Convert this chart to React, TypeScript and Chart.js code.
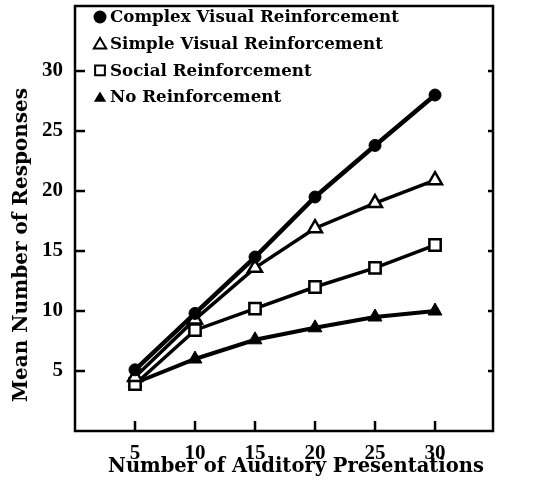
import React, { useEffect, useRef } from 'react';
import { Chart, registerables } from 'chart.js';
Chart.register(...registerables);

const presentations = [5, 10, 15, 20, 25, 30];
const complexVisual = [5.1, 9.8, 14.5, 19.5, 23.8, 28.0];
const simpleVisual = [4.5, 9.3, 13.6, 16.9, 19.0, 20.9];
const socialReinf = [3.9, 8.4, 10.2, 12.0, 13.6, 15.5];
const noReinf = [4.0, 6.0, 7.6, 8.6, 9.5, 10.0];
const seriesNames = [
  'Complex Visual Reinforcement',
  'Simple Visual Reinforcement',
  'Social Reinforcement',
  'No Reinforcement',
];
const xTickValues = [5, 10, 15, 20, 25, 30];
const yTickValues = [5, 10, 15, 20, 25, 30];
const xTitle = 'Number of Auditory Presentations';
const yTitle = 'Mean Number of Responses';

const X_TITLE_FONT = "bold 19.5px 'DejaVu Serif'";
const Y_TITLE_FONT = "bold 20px 'DejaVu Serif'";
const LEGEND_FONT = "bold 16.7px 'DejaVu Serif'";

type Marker = 'circle' | 'triangleOpen' | 'rectOpen' | 'triangleFilled';
const markers: Marker[] = ['circle', 'triangleOpen', 'rectOpen', 'triangleFilled'];

function drawMarker(ctx: CanvasRenderingContext2D, m: Marker, x: number, y: number, r: number) {
  ctx.save();
  ctx.strokeStyle = '#000';
  ctx.fillStyle = '#000';
  ctx.lineWidth = 2;
  ctx.beginPath();
  if (m === 'circle') {
    ctx.arc(x, y, r, 0, Math.PI * 2);
    ctx.fill();
  } else if (m === 'triangleOpen' || m === 'triangleFilled') {
    const h = r * 1.6;
    const w = r * 1.9;
    ctx.moveTo(x, y - h * 0.55);
    ctx.lineTo(x + w / 2, y + h * 0.45);
    ctx.lineTo(x - w / 2, y + h * 0.45);
    ctx.closePath();
    if (m === 'triangleFilled') ctx.fill();
    else {
      ctx.fillStyle = '#fff';
      ctx.fill();
      ctx.stroke();
    }
  } else {
    ctx.rect(x - r * 0.75, y - r * 0.75, r * 1.5, r * 1.5);
    ctx.fillStyle = '#fff';
    ctx.fill();
    ctx.stroke();
  }
  ctx.restore();
}

const framePlugin = {
  id: 'frame',
  beforeDatasetsDraw(chart: any) {
    const { ctx, chartArea: a, scales } = chart;
    const x = scales.x;
    const y = scales.y;
    ctx.save();
    ctx.strokeStyle = '#000';
    ctx.lineWidth = 2.5;
    ctx.strokeRect(a.left, a.top, a.right - a.left, a.bottom - a.top);
    const line = (x1: number, y1: number, x2: number, y2: number) => {
      ctx.beginPath();
      ctx.moveTo(x1, y1);
      ctx.lineTo(x2, y2);
      ctx.stroke();
    };
    ctx.lineWidth = 2.5;
    yTickValues.forEach((v) => {
      const py = y.getPixelForValue(v);
      line(a.left, py, a.left + 10, py);
      line(a.right - 5, py, a.right, py);
    });
    xTickValues.forEach((v) => {
      const px = x.getPixelForValue(v);
      line(px, a.bottom, px, a.bottom - 10);
    });
    ctx.restore();
  },
  afterDraw(chart: any) {
    const { ctx } = chart;
    ctx.save();
    ctx.fillStyle = '#000';
    ctx.textAlign = 'center';
    ctx.textBaseline = 'middle';
    ctx.font = X_TITLE_FONT;
    ctx.fillText(xTitle, 296, 467);
    ctx.save();
    ctx.font = Y_TITLE_FONT;
    ctx.translate(22, 245);
    ctx.rotate(-Math.PI / 2);
    ctx.fillText(yTitle, 0, 0);
    ctx.restore();
    ctx.font = LEGEND_FONT;
    ctx.textAlign = 'left';
    seriesNames.forEach((name, i) => {
      const cy = 17 + i * 26.7;
      drawMarker(ctx, markers[i], 100, cy, 6.5);
      ctx.fillStyle = '#000';
      ctx.fillText(name, 110, cy + 1);
    });
    ctx.restore();
  },
};

export default function App() {
  const canvasRef = useRef<HTMLCanvasElement | null>(null);

  useEffect(() => {
    document.body.style.margin = '0';
    const canvas = canvasRef.current;
    if (!canvas) return;
    const toXY = (arr: number[]) => arr.map((v, i) => ({ x: presentations[i], y: v }));
    const tickFont = { family: "'Liberation Serif'", weight: 'bold', size: 21 };
    const chart = new Chart(canvas, {
      type: 'line',
      data: {
        datasets: [
          {
            label: seriesNames[0],
            data: toXY(complexVisual),
            borderColor: '#000',
            borderWidth: 4.5,
            pointStyle: 'circle',
            pointRadius: 6,
            pointBackgroundColor: '#000',
            pointBorderColor: '#000',
            pointBorderWidth: 1,
          },
          {
            label: seriesNames[1],
            data: toXY(simpleVisual),
            borderColor: '#000',
            borderWidth: 3.5,
            pointStyle: 'triangle',
            pointRadius: 8,
            pointBackgroundColor: '#fff',
            pointBorderColor: '#000',
            pointBorderWidth: 2.5,
          },
          {
            label: seriesNames[2],
            data: toXY(socialReinf),
            borderColor: '#000',
            borderWidth: 3.5,
            pointStyle: 'rect',
            pointRadius: 8,
            pointBackgroundColor: '#fff',
            pointBorderColor: '#000',
            pointBorderWidth: 2.5,
          },
          {
            label: seriesNames[3],
            data: toXY(noReinf),
            borderColor: '#000',
            borderWidth: 4,
            pointStyle: 'triangle',
            pointRadius: 8,
            pointBackgroundColor: '#000',
            pointBorderColor: '#000',
            pointBorderWidth: 1,
          },
        ],
      },
      options: {
        animation: false,
        responsive: false,
        layout: { autoPadding: false, padding: { top: 6, right: 46, left: 0, bottom: 0 } },
        plugins: {
          legend: { display: false },
          title: { display: false },
          tooltip: { enabled: false },
        },
        scales: {
          x: {
            type: 'linear',
            min: 0,
            max: 34.83,
            grid: { display: false },
            border: { display: false },
            afterFit: (s: any) => {
              s.height = 55;
              s.paddingLeft = 0;
              s.paddingRight = 0;
            },
            afterBuildTicks: (s: any) => {
              s.ticks = xTickValues.map((v) => ({ value: v }));
            },
            ticks: {
              color: '#000',
              padding: 2,
              maxRotation: 0,
              autoSkip: false,
              font: tickFont,
            },
          },
          y: {
            type: 'linear',
            min: 0,
            max: 35.42,
            grid: { display: false },
            border: { display: false },
            afterFit: (s: any) => {
              s.width = 75;
              s.paddingTop = 0;
              s.paddingBottom = 0;
            },
            afterBuildTicks: (s: any) => {
              s.ticks = yTickValues.map((v) => ({ value: v }));
            },
            ticks: {
              color: '#000',
              padding: 4,
              autoSkip: false,
              font: tickFont,
            },
          },
        },
      },
      plugins: [framePlugin],
    } as any);
    return () => chart.destroy();
  }, []);

  return (
    <div style={{ width: 539, height: 486, background: '#fff' }}>
      <canvas ref={canvasRef} width={539} height={486} style={{ display: 'block' }} />
    </div>
  );
}
